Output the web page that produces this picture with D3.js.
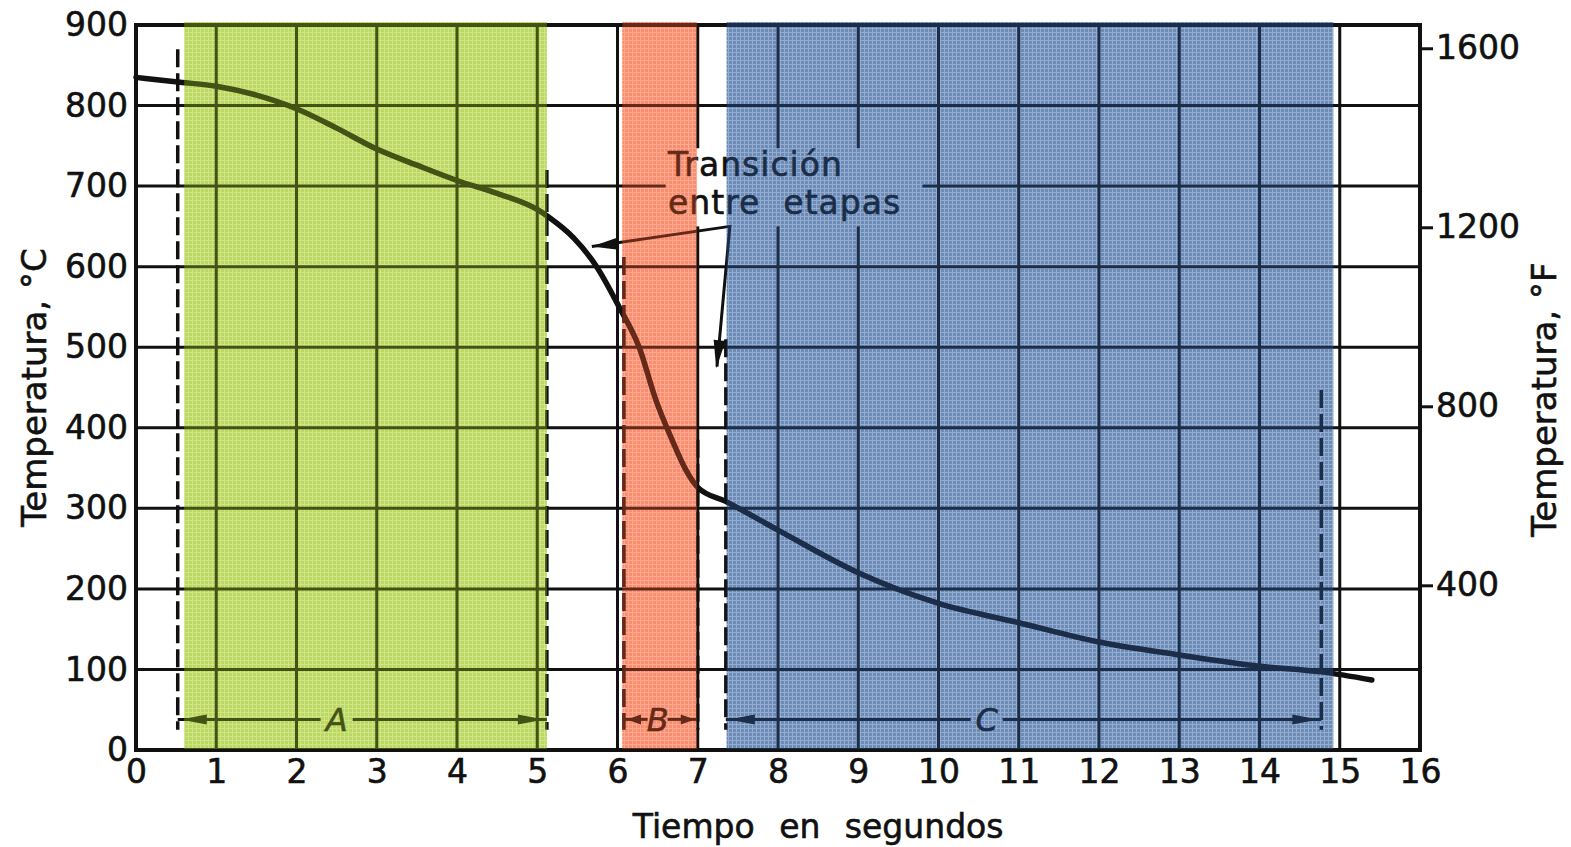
<!DOCTYPE html>
<html>
<head>
<meta charset="utf-8">
<script src="https://cdn.jsdelivr.net/npm/d3@7"></script>
<style>
  body { margin: 0; background: #fff; }
  svg text { font-family: "DejaVu Sans", sans-serif; fill: #111; stroke: #111; stroke-width: 0.6px; }
</style>
</head>
<body>
<div id="chart"></div>
<script>
// DATA ------------------------------------------------------------------
const timeTicks = d3.range(0, 17);          // seconds
const celsiusTicks = d3.range(0, 1000, 100);
const fahrenheitTicks = [400, 800, 1200, 1600];

// cooling curve (time in s, temperature in °C)
const curveTime = [0, 0.55, 1, 1.5, 2, 2.5, 3, 3.5, 4, 4.5, 5, 5.15, 5.45, 5.74, 6.02, 6.27, 6.48, 6.68, 6.85, 7.0, 7.36, 8, 9, 10, 11, 12, 13, 14, 14.77, 15.4];
const curveTemp = [835, 829, 824, 813, 796, 772, 746, 726, 707, 691, 671, 661, 636, 600, 550, 500, 434, 385, 348, 326, 308, 273, 220, 182, 158, 134, 118, 104, 97, 87];

// stages: shaded band and dashed limits
const stageNames = ['A', 'B', 'C'];
const stageBand = [[0.6, 5.12], [6.06, 6.99], [7.36, 14.92]];
const stageLimits = [[0.52, 5.12], [6.08, 7.0], [7.35, 14.77]];
const stageLimitTop = [[870, 720], [612, 385], [510, 447]];   // °C where dashes start
const stageLabelAt = [2.5, 6.5, 10.6];

const noteLines = ['Transición', 'entre  etapas'];

// CHART INIT ------------------------------------------------------------
const W = 1571, H = 847;
const margin = {top: 25, right: 151, bottom: 97, left: 136};

const svg = d3.select('#chart').append('svg')
  .attr('width', W).attr('height', H);

const x = d3.scaleLinear().domain([0, 16]).range([margin.left, W - margin.right]);
const y = d3.scaleLinear().domain([0, 900]).range([H - margin.bottom, margin.top]);
const yF = d3.scaleLinear().domain([32, 900 * 9 / 5 + 32]).range(y.range());

const defs = svg.append('defs');
const palette = [
  {base: '#c8df88', mesh: '#e6f2c0', tint: '#a0ca1e'},
  {base: '#f5ab98', mesh: '#fcd6ca', tint: '#ff5526'},
  {base: '#8ea2ba', mesh: '#cbd5e2', tint: '#2f62b0'}
];
palette.forEach((p, i) => {
  const pat = defs.append('pattern')
    .attr('id', 'mesh' + i)
    .attr('width', 4).attr('height', 4)
    .attr('patternUnits', 'userSpaceOnUse');
  pat.append('rect').attr('width', 4).attr('height', 4).attr('fill', p.base);
  pat.append('path').attr('d', 'M0,0.5H4M0.5,0V4')
    .attr('stroke', p.mesh).attr('stroke-width', 1);
});

// gap in grid behind the note
const mask = defs.append('mask').attr('id', 'gridMask');
mask.append('rect').attr('width', W).attr('height', H).attr('fill', '#fff');
mask.append('rect')
  .attr('x', x(6.6)).attr('y', y(747))
  .attr('width', x(9.8) - x(6.6)).attr('height', y(650) - y(747))
  .attr('fill', '#000');

const ink = '#111';

// shaded stage bands
svg.append('g').selectAll('rect')
  .data(stageBand)
  .join('rect')
  .attr('x', d => x(d[0]))
  .attr('width', d => x(d[1]) - x(d[0]))
  .attr('y', y(900) - 3)
  .attr('height', y(0) - y(900) + 2)
  .attr('fill', (d, i) => `url(#mesh${i})`);

// grid
const grid = svg.append('g').attr('mask', 'url(#gridMask)')
  .attr('stroke', ink).attr('stroke-width', 3);
grid.selectAll('.vg')
  .data(timeTicks.slice(1, 16))
  .join('line')
  .attr('x1', d => x(d)).attr('x2', d => x(d))
  .attr('y1', y(900)).attr('y2', y(0));
grid.selectAll('.hg')
  .data(celsiusTicks.slice(1, 9))
  .join('line')
  .attr('x1', x(0)).attr('x2', x(16))
  .attr('y1', d => y(d)).attr('y2', d => y(d));

// frame
svg.append('rect')
  .attr('x', x(0)).attr('y', y(900))
  .attr('width', x(16) - x(0)).attr('height', y(0) - y(900))
  .attr('fill', 'none').attr('stroke', ink).attr('stroke-width', 4);

// dashed stage limits
const dashes = svg.append('g')
  .attr('stroke', ink).attr('stroke-width', 3.5).attr('stroke-dasharray', '18,6');
stageLimits.forEach((lim, i) => {
  lim.forEach((t, j) => {
    dashes.append('line')
      .attr('x1', x(t)).attr('x2', x(t))
      .attr('y1', y(stageLimitTop[i][j])).attr('y2', y(25));
  });
});

// cooling curve
const line = d3.line()
  .x((d, i) => x(curveTime[i]))
  .y(d => y(d))
  .curve(d3.curveMonotoneX);
svg.append('path')
  .datum(curveTemp)
  .attr('d', line)
  .attr('fill', 'none')
  .attr('stroke', ink)
  .attr('stroke-width', 5.5)
  .attr('stroke-linecap', 'round');

// arrowhead helper: tip at (tx,ty), pointing along angle
function arrowHead(g, tx, ty, angle, len, half) {
  const a = angle * Math.PI / 180;
  const bx = tx - len * Math.cos(a), by = ty - len * Math.sin(a);
  const px = -Math.sin(a) * half, py = Math.cos(a) * half;
  g.append('path')
    .attr('d', `M${tx},${ty}L${bx + px},${by + py}L${bx - px},${by - py}Z`)
    .attr('fill', ink);
}

// stage spans with arrows
const spanY = y(38);
const spans = svg.append('g');
stageLimits.forEach((lim, i) => {
  const x0 = x(lim[0]), x1 = x(lim[1]), xm = x(stageLabelAt[i]);
  const gap = i === 1 ? 10 : 16;
  spans.append('line').attr('x1', x0).attr('x2', xm - gap)
    .attr('y1', spanY).attr('y2', spanY)
    .attr('stroke', ink).attr('stroke-width', 3);
  spans.append('line').attr('x1', xm + gap).attr('x2', x1)
    .attr('y1', spanY).attr('y2', spanY)
    .attr('stroke', ink).attr('stroke-width', 3);
  const hl = i === 1 ? 14 : 26;
  arrowHead(spans, x0 + 3, spanY, 180, hl, 5);
  arrowHead(spans, x1 - 3, spanY, 0, hl, 5);
  spans.append('text')
    .attr('x', xm).attr('y', spanY + 12)
    .attr('text-anchor', 'middle')
    .attr('font-size', 32)
    .attr('font-style', 'italic')
    .text(stageNames[i]);
});

// note and leaders
const note = svg.append('g');
note.selectAll('text')
  .data(noteLines)
  .join('text')
  .attr('x', x(6.63))
  .attr('y', (d, i) => y(712) + i * 38)
  .attr('font-size', 33)
  .attr('letter-spacing', 1)
  .style('white-space', 'pre')
  .text(d => d);
const knee = [x(7.4), y(650)];
note.append('path')
  .attr('d', `M${x(5.68)},${y(625)}L${knee[0]},${knee[1]}L${x(7.24)},${y(476)}`)
  .attr('fill', 'none').attr('stroke', ink).attr('stroke-width', 3);
arrowHead(note, x(5.68), y(625), 174, 26, 6);
arrowHead(note, x(7.23), y(474), 97, 28, 6);

// tint over bands (darkens the ink inside)
svg.append('g').selectAll('rect')
  .data(stageBand)
  .join('rect')
  .attr('x', d => x(d[0]))
  .attr('width', d => x(d[1]) - x(d[0]))
  .attr('y', y(900) - 3)
  .attr('height', y(0) - y(900) + 2)
  .attr('fill', (d, i) => palette[i].tint)
  .attr('opacity', 0.35);

// AXES ------------------------------------------------------------------
const styleTicks = g => g.selectAll('text').attr('font-size', 33).attr('fill', ink)
  .attr('font-family', '"DejaVu Sans", sans-serif');

const xAxis = d3.axisBottom(x).tickValues(timeTicks).tickSize(0).tickPadding(10);
svg.append('g')
  .attr('transform', `translate(0,${y(0)})`)
  .call(xAxis)
  .call(g => g.select('.domain').remove())
  .call(styleTicks);

const yAxis = d3.axisLeft(y).tickValues(celsiusTicks).tickSize(0).tickPadding(8);
svg.append('g')
  .attr('transform', `translate(${x(0)},0)`)
  .call(yAxis)
  .call(g => g.select('.domain').remove())
  .call(styleTicks);

const yAxisF = d3.axisRight(yF).tickValues(fahrenheitTicks).tickFormat(d3.format('d'))
  .tickSize(13).tickPadding(3);
svg.append('g')
  .attr('transform', `translate(${x(16)},0)`)
  .call(yAxisF)
  .call(g => g.select('.domain').remove())
  .call(g => g.selectAll('line').attr('stroke', ink).attr('stroke-width', 3))
  .call(styleTicks);

// axis titles
svg.append('text')
  .attr('transform', `translate(46,${y(450)}) rotate(-90)`)
  .attr('text-anchor', 'middle')
  .attr('font-size', 34)
  .text('Temperatura, °C');
svg.append('text')
  .attr('transform', `translate(1556,${y(435)}) rotate(-90)`)
  .attr('text-anchor', 'middle')
  .attr('font-size', 34)
  .text('Temperatura, °F');
svg.append('text')
  .attr('x', x(8.5)).attr('y', 838)
  .attr('text-anchor', 'middle')
  .attr('font-size', 33)
  .attr('word-spacing', 14)
  .text('Tiempo en segundos');
</script>
</body>
</html>
